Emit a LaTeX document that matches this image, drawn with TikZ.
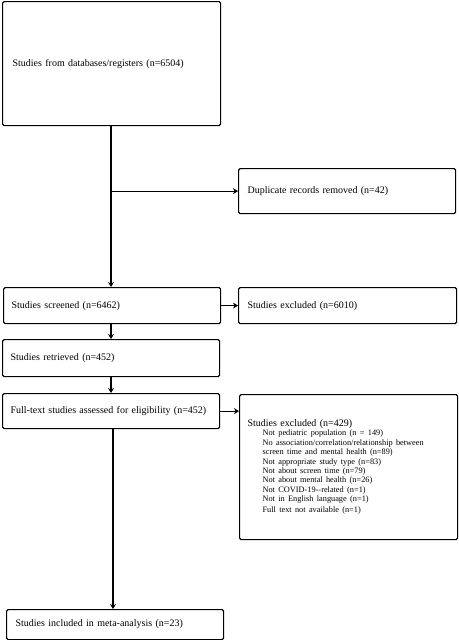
\documentclass[tikz,border=0pt]{standalone}
\usepackage{fontspec}
\setmainfont{Liberation Serif}
\usetikzlibrary{arrows.meta}
\begin{document}
\begin{tikzpicture}[x=1pt,y=-1pt,
  box/.style={draw, line width=1.2pt, rounded corners=1.5pt, anchor=north west,
    align=left, inner xsep=0pt, font=\fontsize{10}{11}\selectfont},
  arr/.style={line width=1.2pt, -{Stealth[length=5pt,width=6pt]}}]
\useasboundingbox (0,0) rectangle (458,640);
% boxes: text width = w - 2*pad, minimum width = w
\node[box, minimum width=218pt, minimum height=124pt, text width=198pt, inner xsep=10pt] (a) at (2,1) {Studies from databases/registers (n=6504)};
\node[box, minimum width=217pt, minimum height=45pt, text width=199pt, inner xsep=9pt] (dup) at (238,168) {Duplicate records removed (n=42)};
\node[box, minimum width=217pt, minimum height=36pt, text width=201pt, inner xsep=7pt] (scr) at (3,287) {Studies screened (n=6462)};
\node[box, minimum width=218pt, minimum height=36pt, text width=200pt, inner xsep=9pt] (ex1) at (238,287) {Studies excluded (n=6010)};
\node[box, minimum width=217pt, minimum height=37pt, text width=201pt, inner xsep=8pt] (ret) at (2,339) {Studies retrieved (n=452)};
\node[box, minimum width=217pt, minimum height=35pt, text width=201pt, inner xsep=8pt] (ft) at (2,393) {Full-text studies assessed for eligibility (n=452)};
\node[box, minimum width=218pt, minimum height=145pt, text width=202pt, inner xsep=8pt] (ex2) at (239,394) {Studies excluded (n=429)\\
\fontsize{8.3}{9.4}\selectfont
\hspace*{15pt}Not pediatric population (n = 149)\\
\hspace*{15pt}No association/correlation/relationship between\\
\hspace*{15pt}screen time and mental health (n=89)\\
\hspace*{15pt}Not appropriate study type (n=83)\\
\hspace*{15pt}Not about screen time (n=79)\\
\hspace*{15pt}Not about mental health (n=26)\\
\hspace*{15pt}Not COVID-19-{}-related (n=1)\\
\hspace*{15pt}Not in English language (n=1)\\
\hspace*{15pt}Full text not available (n=1)};
\node[box, minimum width=217pt, minimum height=30pt, text width=199pt, inner xsep=9pt] (fin) at (6,609) {Studies included in meta-analysis (n=23)};
% connectors
\coordinate (br) at (111,0);
\draw[arr] (a.south -| br) -- (scr.north -| br);
\draw[arr] (br |- dup.west) -- (dup.west);
\draw[arr] (scr.east) -- (ex1.west |- scr.east);
\draw[arr] (scr.south -| br) -- (ret.north -| br);
\draw[arr] (ret.south -| br) -- (ft.north -| br);
\draw[arr] (ft.east) -- (ex2.west |- ft.east);
\coordinate (br2) at (113,0);
\draw[arr] (ft.south -| br2) -- (fin.north -| br2);
\end{tikzpicture}
\end{document}
